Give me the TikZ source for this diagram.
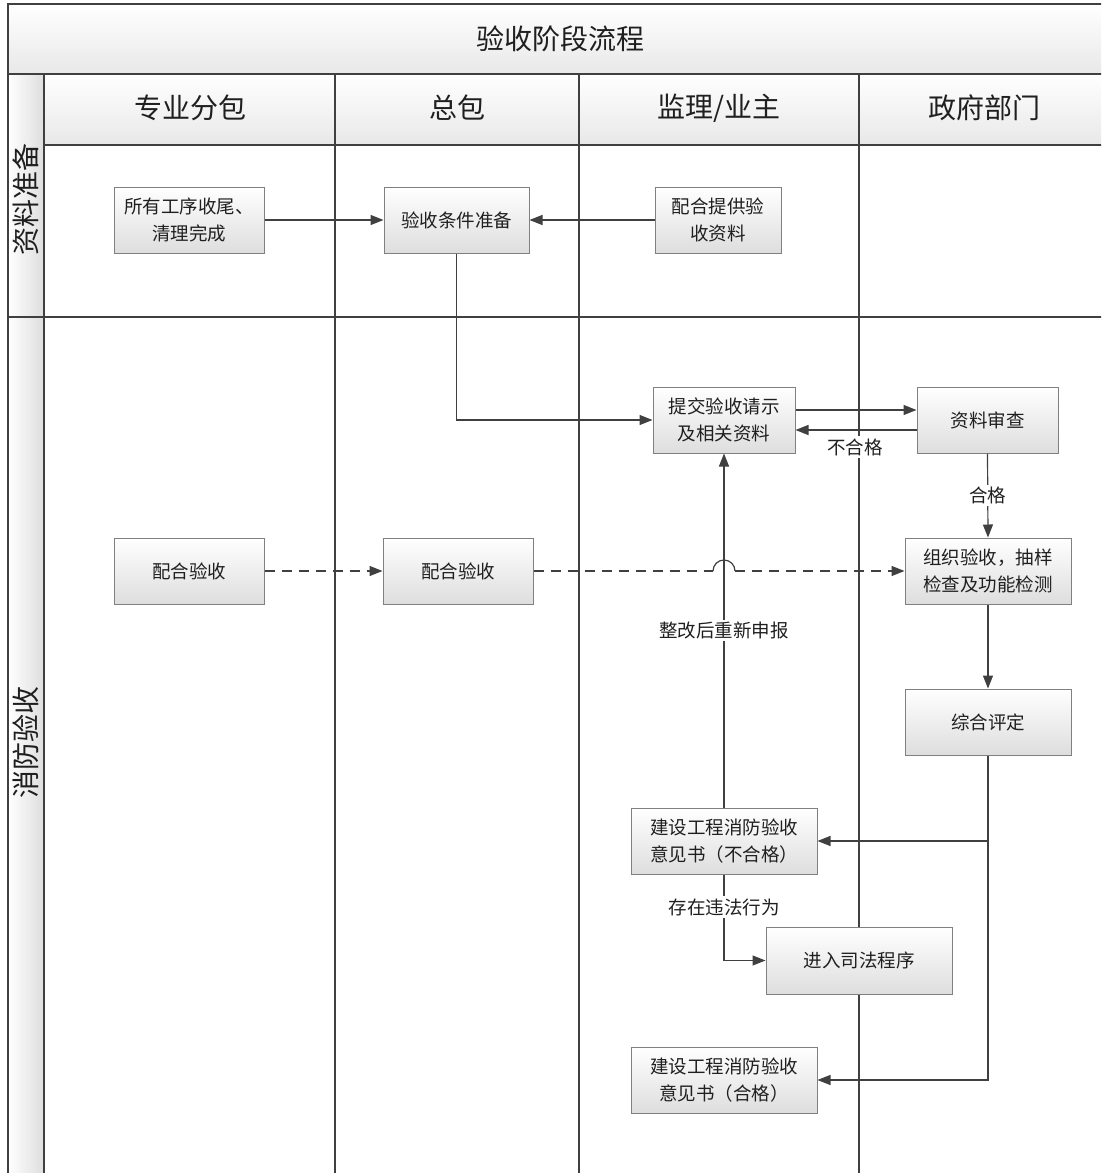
\documentclass[tikz,border=0pt]{standalone}
\usepackage{fontspec}
\setmainfont{Noto Sans CJK SC}
\usetikzlibrary{arrows.meta,calc}
\begin{document}
\begin{tikzpicture}[x=1pt,y=1pt,
 ln/.style={draw=black!75,line width=1.4pt},
 box/.style={draw=black!50,line width=1pt,top color=white,bottom color=black!13,minimum height=66pt,inner sep=0pt,align=center,font=\fontsize{18.5}{27}\selectfont,text=black!88},
 arr/.style={draw=black!75,line width=1.2pt,-{Triangle[length=13pt,width=10pt]}},
 dln/.style={draw=black!75,line width=1.2pt,dash pattern=on 10pt off 7pt},
 darr/.style={arr,dash pattern=on 10pt off 7pt},
 lbl/.style={fill=white,inner sep=2pt,font=\fontsize{18.5}{22}\selectfont,text=black!88},
 hdr/.style={font=\fontsize{28}{32}\selectfont,text=black!88,inner sep=0pt}]
\useasboundingbox (0,0) rectangle (1101,-1173);
\clip (0,0) rectangle (1101,-1173);
\fill[white] (0,0) rectangle (1101,-1173);
% shaded bands
\path[top color=white,bottom color=black!9] (8,-4) rectangle (1120,-74);
\path[top color=white,bottom color=black!9] (44,-74) rectangle (1120,-145);
\path[left color=white,right color=black!13] (8,-74) rectangle (44,-1200);
% frame lines
\draw[ln] (8,-1200) -- (8,-4) -- (1120,-4);
\draw[ln] (8,-74) -- (1120,-74);
\draw[ln] (44,-145) -- (1120,-145);
\draw[ln] (8,-317) -- (1120,-317);
\draw[ln] (44,-74) -- (44,-1200);
\draw[ln] (335,-74) -- (335,-1200);
\draw[ln] (579,-74) -- (579,-1200);
\draw[ln] (859,-74) -- (859,-1200);
% headers
\node[hdr] (title) at (560,-39) {验收阶段流程};
\node[hdr] (h1) at (190,-108) {专业分包};
\node[hdr] (h2) at (457,-108) {总包};
\node[hdr] (h3) at (719,-108) {监理/业主};
\node[hdr] (h4) at (984,-108) {政府部门};
\node[hdr,rotate=90] (r1) at (26,-199) {资料准备};
\node[hdr,rotate=90] (r2) at (26,-742) {消防验收};
% boxes
\node[box,minimum width=150pt] (A) at (189,-220) {所有工序收尾、\\清理完成};
\node[box,minimum width=145pt] (B) at (456.5,-220) {验收条件准备};
\node[box,minimum width=126pt] (C) at (718,-220) {配合提供验\\收资料};
\node[box,minimum width=142pt] (D) at (724,-420) {提交验收请示\\及相关资料};
\node[box,minimum width=141pt] (E) at (987.5,-420) {资料审查};
\node[box,minimum width=166pt] (F) at (988,-571) {组织验收，抽样\\检查及功能检测};
\node[box,minimum width=150pt] (G) at (189,-571) {配合验收};
\node[box,minimum width=150pt] (H) at (458,-571) {配合验收};
\node[box,minimum width=166pt] (I) at (988,-722) {综合评定};
\node[box,minimum width=186pt] (J) at (724,-841) {建设工程消防验收\\意见书（不合格）};
\node[box,minimum width=186pt,minimum height=67pt] (K) at (859,-960.5) {进入司法程序};
\node[box,minimum width=186pt] (L) at (724,-1080) {建设工程消防验收\\意见书（合格）};
% connectors
\draw[arr] (A.east) -- (B.west);
\draw[arr] (C.west) -- (B.east);
\draw[arr] (B.south) |- (D.west);
\draw[arr] ([yshift=10pt]D.east) -- ([yshift=10pt]E.west);
\draw[arr] ([yshift=-10pt]E.west) -- ([yshift=-10pt]D.east);
\node[lbl] (l1) at (855,-447) {不合格};
\draw[arr] (E.south) -- (F.north) node[lbl,midway] (l2) {合格};
\draw[darr] (G.east) -- (H.west);
\coordinate (hop) at (J.north |- H.east);
\draw[dln] (H.east) -- ([xshift=-11pt]hop);
\draw[draw=black!75,line width=1.2pt] ([xshift=-11pt]hop) arc[start angle=180,end angle=0,radius=11pt];
\draw[darr] ([xshift=11pt]hop) -- (F.west);
\draw[arr] (F.south) -- (I.north);
\draw[arr] (J.north) -- (D.south) node[lbl,pos=0.5] (l3) {整改后重新申报};
\draw[arr] (I.south) |- (L.east);
\coordinate (br) at (I.south |- J.east);
\draw[arr] (br) -- (J.east);
\draw[arr] (J.south) |- (K.west);
\node[lbl] (l4) at (724,-907) {存在违法行为};
\end{tikzpicture}
\end{document}
